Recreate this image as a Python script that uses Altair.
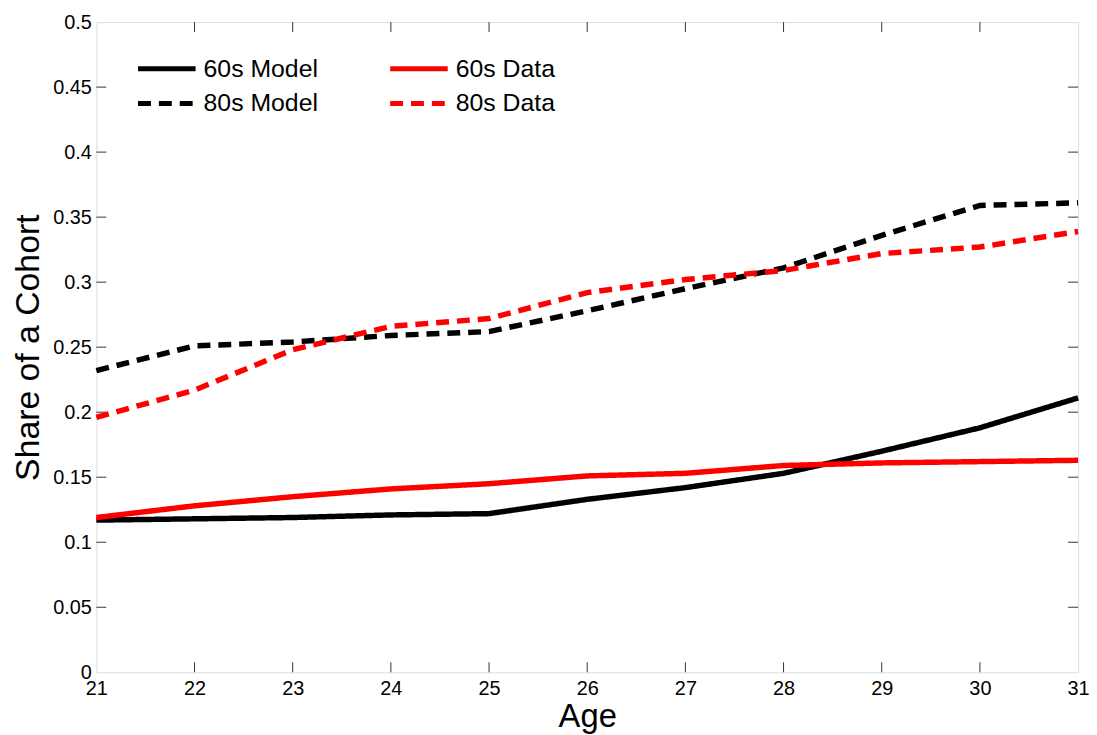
import altair as alt
import pandas as pd

ages = [21, 22, 23, 24, 25, 26, 27, 28, 29, 30, 31]
model_60s = [0.117, 0.118, 0.119, 0.121, 0.122, 0.133, 0.142, 0.153, 0.170, 0.188, 0.211]
data_60s = [0.119, 0.128, 0.135, 0.141, 0.145, 0.151, 0.153, 0.159, 0.161, 0.162, 0.163]
model_80s = [0.232, 0.251, 0.254, 0.259, 0.262, 0.278, 0.295, 0.311, 0.336, 0.359, 0.361]
data_80s = [0.196, 0.217, 0.248, 0.266, 0.272, 0.292, 0.302, 0.309, 0.322, 0.327, 0.339]

# legend order (column-major in a 2-column legend)
series_names = ["60s Model", "80s Model", "60s Data", "80s Data"]
series_values = [model_60s, model_80s, data_60s, data_80s]
series_colors = ["#000000", "#000000", "#ff0000", "#ff0000"]
series_dash = [[1, 0], [13, 8], [1, 0], [13, 8]]

x_ticks = [22, 23, 24, 25, 26, 27, 28, 29, 30]
y_ticks = [0.05, 0.1, 0.15, 0.2, 0.25, 0.3, 0.35, 0.4, 0.45]

rows = []
for name, vals in zip(series_names, series_values):
    for a, v in zip(ages, vals):
        rows.append({"age": a, "share": v, "series": name})
df = pd.DataFrame(rows)

W, H = 989, 655
FONT = "Liberation Sans"

xscale = alt.Scale(domain=[21, 31], nice=False, zero=False)
yscale = alt.Scale(domain=[0, 0.5], nice=False)

legend = alt.Legend(
    title=None, orient="none", legendX=54, legendY=30, columns=2,
    symbolType="M-2,0H2", symbolSize=841, symbolStrokeWidth=5,
    labelFontSize=25, labelFont=FONT, labelColor="#000", labelOffset=20,
    rowPadding=5, columnPadding=62, labelLimit=300,
)

lines = alt.Chart(df).mark_line(strokeWidth=5.5, strokeCap="butt").encode(
    x=alt.X("age:Q", scale=xscale,
            axis=alt.Axis(values=ages, format="d", title="Age", ticks=False, domain=False,
                          grid=False, labelFontSize=20, labelFont=FONT, labelColor="#000",
                          labelPadding=6, titleFontSize=33, titleFont=FONT,
                          titleFontWeight="normal", titleColor="#000", titlePadding=3,
                          labelFlush=False)),
    y=alt.Y("share:Q", scale=yscale,
            axis=alt.Axis(values=[0] + y_ticks + [0.5], format=".2~f",
                          title="Share of a Cohort", ticks=False, domain=False,
                          grid=False, labelFontSize=20, labelFont=FONT, labelColor="#000",
                          labelPadding=5, titleFontSize=34, titleFont=FONT,
                          titleFontWeight="normal", titleColor="#000", titlePadding=7,
                          labelFlush=False)),
    color=alt.Color("series:N", scale=alt.Scale(domain=series_names, range=series_colors),
                    legend=legend),
    strokeDash=alt.StrokeDash("series:N", scale=alt.Scale(domain=series_names, range=series_dash),
                              legend=legend),
)

xt = pd.DataFrame({"age": x_ticks})
yt = pd.DataFrame({"share": y_ticks})
tick_style = dict(color="#333", strokeWidth=1)

bottom_ticks = alt.Chart(xt).mark_rule(**tick_style).encode(
    x=alt.X("age:Q", scale=xscale), y=alt.value(H), y2=alt.value(H - 10))
top_ticks = alt.Chart(xt).mark_rule(**tick_style).encode(
    x=alt.X("age:Q", scale=xscale), y=alt.value(0), y2=alt.value(10))
left_ticks = alt.Chart(yt).mark_rule(**tick_style).encode(
    y=alt.Y("share:Q", scale=yscale), x=alt.value(0), x2=alt.value(10))
right_ticks = alt.Chart(yt).mark_rule(**tick_style).encode(
    y=alt.Y("share:Q", scale=yscale), x=alt.value(W), x2=alt.value(W - 10))

chart = alt.layer(bottom_ticks, top_ticks, left_ticks, right_ticks, lines).properties(
    width=W, height=H,
    autosize=alt.AutoSizeParams(type="none"),
    padding={"left": 89, "top": 11.5, "right": 11, "bottom": 60},
).configure_view(stroke="#000", strokeWidth=1.5).configure(background="white")

chart.save("out.html", embed_options={"renderer": "svg", "actions": False})
